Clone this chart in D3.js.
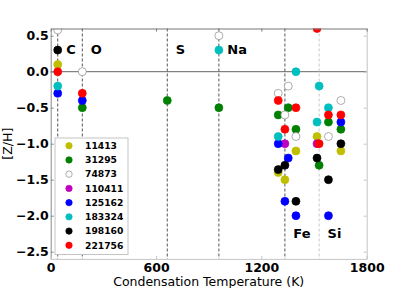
<!DOCTYPE html>
<html>
<head>
<meta charset="utf-8">
<script src="https://cdn.jsdelivr.net/npm/d3@7"></script>
<style>
    body { margin: 0; background: #fff; }
    svg { display: block; font-family: "DejaVu Sans", sans-serif; }
</style>
</head>
<body>
<svg id="chart" width="407" height="288"></svg>
<script>
// element order and their condensation temperatures (K)
const elements = [ 'C', 'O', 'S', 'Na', 'Cr', 'Fe', 'Ni', 'Mg', 'Ca', 'Si', 'Ti', 'Al' ]
const condTemps = [ 40, 180, 664, 958, 1296, 1334, 1353, 1397, 1517, 1529, 1582, 1653 ]

// elements marked with a dashed line and a label
const markedElements = [ 'C', 'O', 'S', 'Na', 'Fe', 'Si' ]

const stars = [ '11413', '31295', '74873', '110411', '125162', '183324', '198160', '221756' ]
const starColors = [ '#bfbf00', '#008000', '#ffffff', '#bf00bf', '#0000ff', '#00bfbf', '#000000', '#ff0000' ]

// [Z/H] per star, same order as elements (null = not measured)
const hd11413 = [ 0.10, null, null, null, -1.40, -1.50, null, -1.10, -0.90, null, null, -1.10 ]
const hd31295 = [ null, -0.50, -0.40, -0.50, -0.60, null, -0.50, -0.80, null, -1.30, -0.70, -0.80 ]
const hd74873 = [ 0.58, 0.00, null, 0.50, -0.30, -0.60, -0.20, -0.90, null, null, -0.90, -0.40 ]
const hd110411 = [ null, null, null, null, null, -1.00, null, null, -1.00, null, null, null ]
const hd125162 = [ -0.30, -0.40, null, null, -1.00, -1.80, -1.20, -2.00, null, null, -2.00, -0.70 ]
const hd183324 = [ -0.20, null, null, 0.30, -0.90, null, null, 0.00, -0.70, -0.20, -0.50, null ]
const hd198160 = [ 0.30, null, null, null, -1.36, -1.30, null, -1.80, -1.20, null, -1.50, -1.00 ]
const hd221756 = [ 0.00, -0.30, null, null, -0.40, -0.80, null, -0.50, 0.60, -1.00, -0.60, -0.60 ]

const starValues = [ hd11413, hd31295, hd74873, hd110411, hd125162, hd183324, hd198160, hd221756 ]

const xTicks = [ 0, 600, 1200, 1800 ]
const yTicks = [ -2.5, -2.0, -1.5, -1.0, -0.5, 0.0, 0.5 ]

const svg = d3.select( '#chart' )

const x = d3.scaleLinear().domain( [ 0, 1800 ] ).range( [ 50.7, 366.7 ] )
const y = d3.scaleLinear().domain( [ -2.6, 0.6 ] ).range( [ 258.9, 28.5 ] )

const [ x0, x1 ] = x.range(),
      [ y0, y1 ] = y.range()

svg.append( 'clipPath' ).attr( 'id', 'plotClip' )
    .append( 'rect' )
    .attr( 'x', x0 ).attr( 'y', y1 )
    .attr( 'width', x1 - x0 ).attr( 'height', y0 - y1 )

// zero line
svg.append( 'line' )
    .attr( 'x1', x0 ).attr( 'x2', x1 )
    .attr( 'y1', y( 0 ) ).attr( 'y2', y( 0 ) )
    .attr( 'stroke', '#666' ).attr( 'stroke-width', 1 )

// dashed condensation lines
markedElements.forEach( el => {
    const t = condTemps[ elements.indexOf( el ) ]
    svg.append( 'line' )
        .attr( 'x1', x( t ) ).attr( 'x2', x( t ) )
        .attr( 'y1', y1 ).attr( 'y2', y0 )
        .attr( 'stroke', el === 'Si' ? '#c8c8c8' : '#555' )
        .attr( 'stroke-width', 1 )
        .attr( 'stroke-dasharray', '3,2' )
} )

// element labels
markedElements.forEach( el => {
    const t = condTemps[ elements.indexOf( el ) ]
    const low = el === 'Fe' || el === 'Si'
    svg.append( 'text' )
        .attr( 'x', x( t + 48 ) )
        .attr( 'y', y( low ? -2.31 : 0.25 ) )
        .attr( 'font-size', 13 )
        .attr( 'font-weight', 'bold' )
        .text( el )
} )

// points
const pts = svg.append( 'g' ).attr( 'clip-path', 'url(#plotClip)' )

stars.forEach( ( star, i ) => {
    const color = starColors[ i ]
    starValues[ i ].forEach( ( v, j ) => {
        if( v === null ) return
        pts.append( 'circle' )
            .attr( 'cx', x( condTemps[ j ] ) )
            .attr( 'cy', y( v ) )
            .attr( 'r', 4 )
            .attr( 'fill', color )
            .attr( 'stroke', color === '#ffffff' ? '#8a8a8a' : color )
            .attr( 'stroke-width', 0.7 )
    } )
} )

// axes
const styleAxis = ( g, stroke ) => {
    g.select( '.domain' ).attr( 'stroke', stroke )
    g.selectAll( '.tick line' ).attr( 'stroke', stroke )
    g.selectAll( 'text' )
        .attr( 'font-family', '"DejaVu Sans", sans-serif' )
        .attr( 'font-size', 12.5 )
        .attr( 'font-weight', 'bold' )
        .attr( 'fill', '#000' )
}

svg.append( 'g' )
    .attr( 'transform', `translate( ${x0}, 0 )` )
    .call( d3.axisLeft( y ).tickValues( yTicks ).tickFormat( d3.format( '.1f' ) ).tickSizeInner( -3 ).tickSizeOuter( 0 ).tickPadding( 2 ) )
    .call( g => styleAxis( g, '#888' ) )

svg.append( 'g' )
    .attr( 'transform', `translate( 0, ${y0} )` )
    .call( d3.axisBottom( x ).tickValues( xTicks ).tickFormat( d3.format( 'd' ) ).tickSizeInner( -3 ).tickSizeOuter( 0 ).tickPadding( 4 ) )
    .call( g => styleAxis( g, '#c4c4c4' ) )

svg.append( 'g' )
    .attr( 'transform', `translate( ${x1}, 0 )` )
    .call( d3.axisRight( y ).tickValues( yTicks ).tickFormat( '' ).tickSizeInner( -3 ).tickSizeOuter( 0 ) )
    .call( g => styleAxis( g, '#c4c4c4' ) )

svg.append( 'g' )
    .attr( 'transform', `translate( 0, ${y1} )` )
    .call( d3.axisTop( x ).tickValues( xTicks ).tickFormat( '' ).tickSizeInner( -3 ).tickSizeOuter( 0 ) )
    .call( g => styleAxis( g, '#777' ) )

// axis titles
svg.append( 'text' )
    .attr( 'x', ( x0 + x1 ) / 2 )
    .attr( 'y', 286 )
    .attr( 'text-anchor', 'middle' )
    .attr( 'font-size', 12.5 )
    .text( 'Condensation Temperature (K)' )

svg.append( 'text' )
    .attr( 'transform', `translate( 12, ${( y0 + y1 ) / 2} ) rotate( -90 )` )
    .attr( 'text-anchor', 'middle' )
    .attr( 'font-size', 12.5 )
    .text( '[Z/H]' )

// legend
const legend = svg.append( 'g' ).attr( 'transform', 'translate( 55, 138 )' )

legend.append( 'rect' )
    .attr( 'width', 73 ).attr( 'height', 116.5 )
    .attr( 'fill', '#fff' )
    .attr( 'stroke', '#c4c4c4' )
    .attr( 'stroke-width', 1 )

stars.forEach( ( star, i ) => {
    const row = legend.append( 'g' ).attr( 'transform', `translate( 0, ${7.7 + i * 14.23} )` )
    row.append( 'circle' )
        .attr( 'cx', 14 ).attr( 'r', 3.2 )
        .attr( 'fill', starColors[ i ] )
        .attr( 'stroke', starColors[ i ] === '#ffffff' ? '#8a8a8a' : starColors[ i ] )
        .attr( 'stroke-width', 0.7 )
    row.append( 'text' )
        .attr( 'x', 30 ).attr( 'dy', '0.35em' )
        .attr( 'font-size', 9.2 )
        .attr( 'font-weight', 'bold' )
        .text( star )
} )
</script>
</body>
</html>
